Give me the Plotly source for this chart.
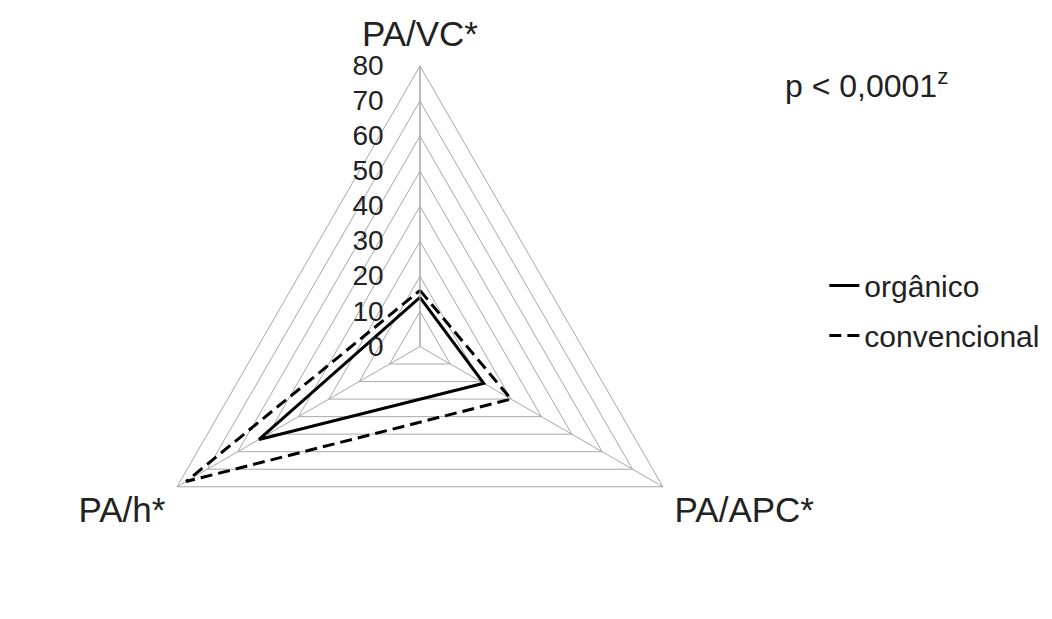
import plotly.graph_objects as go

categories = ["PA/VC*", "PA/APC*", "PA/h*"]
organico = [14, 21, 53]
convencional = [16, 30, 77]
radial_ticks = [0, 10, 20, 30, 40, 50, 60, 70, 80]
series_names = ["orgânico", "convencional"]
p_text = "p < 0,0001<sup>z</sup>"

GRID = "#a8a8a8"
TXT = "#222222"
FONT = "Liberation Sans, Arial, sans-serif"

def closed(vals):
    return list(vals) + [vals[0]]

fig = go.Figure()
fig.add_trace(go.Scatterpolar(
    r=closed(organico), theta=closed(categories), mode="lines",
    name=series_names[0], legendgroup="a",
    line=dict(color="black", width=3)))
fig.add_trace(go.Scatterpolar(
    r=closed(convencional), theta=closed(categories), mode="lines",
    name=series_names[1], legendgroup="b",
    line=dict(color="black", width=3, dash="12px,6px")))

fig.update_layout(
    width=1052, height=619,
    margin=dict(l=0, r=0, t=58, b=0),
    paper_bgcolor="white",
    font=dict(family=FONT, color=TXT),
    polar=dict(
        domain=dict(x=[0.1166, 0.6666], y=[0, 1]),
        gridshape="linear",
        bgcolor="white",
        radialaxis=dict(
            range=[0, 80], tickvals=radial_ticks, angle=90,
            side="counterclockwise", showline=True, linecolor=GRID, linewidth=1,
            gridcolor=GRID, gridwidth=1, ticks="outside", ticklen=26,
            tickcolor="rgba(0,0,0,0)", tickangle=90,
            tickfont=dict(size=28, color=TXT, family=FONT)),
        angularaxis=dict(
            type="category", categoryarray=categories, rotation=90,
            direction="clockwise", showline=True, linecolor=GRID, linewidth=1,
            gridcolor=GRID, gridwidth=1, ticks="outside", ticklen=6,
            tickcolor="rgba(0,0,0,0)",
            tickfont=dict(size=35, color=TXT, family=FONT)),
    ),
    legend=dict(x=0.776, y=0.655, xanchor="left", yanchor="top",
                font=dict(size=30, color=TXT, family=FONT),
                tracegroupgap=8, bgcolor="rgba(0,0,0,0)"),
    showlegend=True,
)
fig.add_annotation(text=p_text, xref="paper", yref="paper", x=0.737, y=0.968,
                   xanchor="left", yanchor="middle", showarrow=False,
                   font=dict(size=32, color=TXT, family=FONT))

fig.write_html("out.html")
